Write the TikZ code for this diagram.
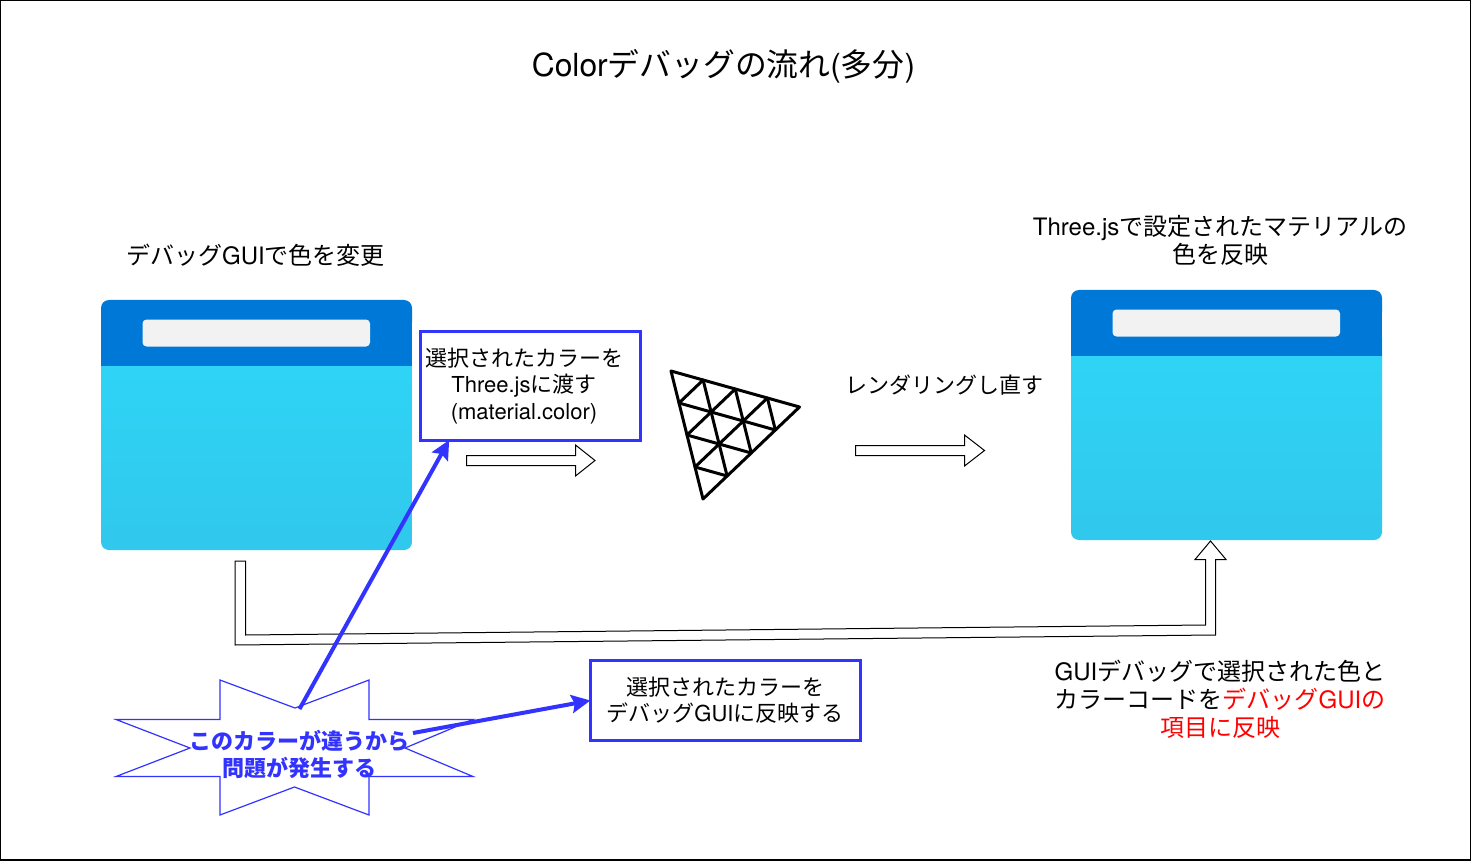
\documentclass[tikz,border=0pt]{standalone}
\usepackage{fontspec}
\usetikzlibrary{arrows.meta,calc}
\setmainfont{TeX Gyre Heros}
\newfontfamily\cjk{Noto Sans CJK JP}
\newcommand{\jp}[1]{{\cjk #1}}
\definecolor{blueln}{HTML}{3333FF}
\definecolor{winhead}{HTML}{0078D7}
\definecolor{wintop}{HTML}{2FD5F7}
\definecolor{winbot}{HTML}{30C8EC}
\definecolor{winbar}{HTML}{F2F2F2}
\tikzset{
  lab/.style={align=center,inner sep=0pt,font=\fontsize{12}{14}\selectfont},
  smalllab/.style={align=center,inner sep=0pt,font=\fontsize{11}{13.4}\selectfont},
  bluebox/.style={draw=blueln,line width=1.5pt,outer sep=0pt,inner sep=0pt},
  fatarrow/.style={draw=black,line width=0.5pt,fill=white,line join=miter},
  bluearrow/.style={draw=blueln,line width=2pt,-{Stealth[length=9.5pt,width=9pt,inset=1.5pt]}},
  mesh/.style={draw=black,line width=1.5pt,line cap=round,line join=round}
}
\newcommand{\winshape}[2]{%
  \begin{scope}[shift={(#1,#2)}]
    \shade[top color=wintop,middle color=wintop,bottom color=winbot,rounded corners=4pt] (0,40) -- (0,250) -- (311,250) -- (311,40) -- cycle;
    \fill[winhead,rounded corners=4pt] (0,30) -- (0,0) -- (311,0) -- (311,30) -- cycle;
    \fill[winhead] (0,20) rectangle (311,66);
    \fill[winbar,rounded corners=2pt] (41.5,19.5) rectangle (269,46.5);
  \end{scope}}
\begin{document}
\begin{tikzpicture}[x=0.5pt,y=-0.5pt]
\useasboundingbox (0,0) rectangle (1472,861);
\fill[white] (0,0) rectangle (1472,861);
\draw[black,line width=0.6pt] (0.5,0.5) rectangle (1470.5,860);

\node[inner sep=0pt,font=\fontsize{15.9}{19}\selectfont] (title) at (723.5,66) {Color\jp{デバッグの流れ}(\jp{多分})};
\node[lab] (lefthead) at (255.5,255) {\jp{デバッグ}GUI\jp{で色を変更}};
\node[lab] (righthead) at (1220,240) {Three.js\jp{で設定されたマテリアルの}\\\jp{色を反映}};

\winshape{101}{300}
\winshape{1071}{290}

\node[bluebox,minimum width=110pt,minimum height=54.5pt] (box1) at (530,385.5) {};
\node[smalllab] (box1text) at (524,386) {\jp{選択されたカラーを}\\Three.js\jp{に渡す}\\(material.color)};
\node[bluebox,minimum width=135pt,minimum height=40pt] (box2) at (725.5,700.5) {};
\node[smalllab,font=\fontsize{11}{13}\selectfont] (box2text) at (725,700) {\jp{選択されたカラーを}\\\jp{デバッグ}GUI\jp{に反映する}};
\node[smalllab] (rerender) at (944,385) {\jp{レンダリングし直す}};
\node[lab] (note) at (1220,699) {GUI\jp{デバッグで選択された色と}\\\jp{カラーコードを}\textcolor{red}{\jp{デバッグ}GUI\jp{の}}\\\textcolor{red}{\jp{項目に反映}}};

% fat arrows
\draw[fatarrow] (466.5,455.5) -- (575.5,455.5) -- (575.5,445) -- (595,460.5) -- (575.5,476) -- (575.5,465.5) -- (466.5,465.5) -- cycle;
\draw[fatarrow] (855.5,445.5) -- (964.5,445.5) -- (964.5,435) -- (984.5,450.5) -- (964.5,466) -- (964.5,455.5) -- (855.5,455.5) -- cycle;
\draw[fatarrow,fill=none] (235,561) -- (245.5,561) -- (245.5,635) -- (1205.5,625) -- (1205.5,559.5) -- (1195,559.5) -- (1210.5,541) -- (1226,559.5) -- (1215.5,559.5) -- (1215.5,635) -- (235,645) -- cycle;

% triangle mesh
\coordinate (A) at (671,371);
\coordinate (B) at (799.5,407);
\coordinate (C) at (703,499);
\draw[mesh] (A) -- (B) -- (C) -- cycle;
\foreach \t in {0.25,0.5,0.75}{
  \draw[mesh] ($(A)!\t!(B)$) -- ($(A)!\t!(C)$);
  \draw[mesh] ($(C)!\t!(A)$) -- ($(C)!\t!(B)$);
  \draw[mesh] ($(B)!\t!(A)$) -- ($(B)!\t!(C)$);
}

% star
\draw[blueln,line width=0.6pt,line join=miter] (116,719.5) -- (220,719.5) -- (220,680) -- (295,708) -- (369,680) -- (369,719.5) -- (473,719.5) -- (405,748) -- (473,776.5) -- (369,776.5) -- (369,815) -- (294.5,787) -- (220,815) -- (220,776.5) -- (116,776.5) -- (190,748) -- cycle;
\node[smalllab,text=blueln,font=\fontsize{11}{13.4}\selectfont\bfseries] (star) at (299,754.5) {\jp{このカラーが違うから}\\\jp{問題が発生する}};
\coordinate (startop) at (299.5,709);
\coordinate (starright) at (413,733);
\draw[bluearrow] (startop) -- (box1.214.7);
\draw[bluearrow] (starright) -- (box2.west);
\end{tikzpicture}
\end{document}
